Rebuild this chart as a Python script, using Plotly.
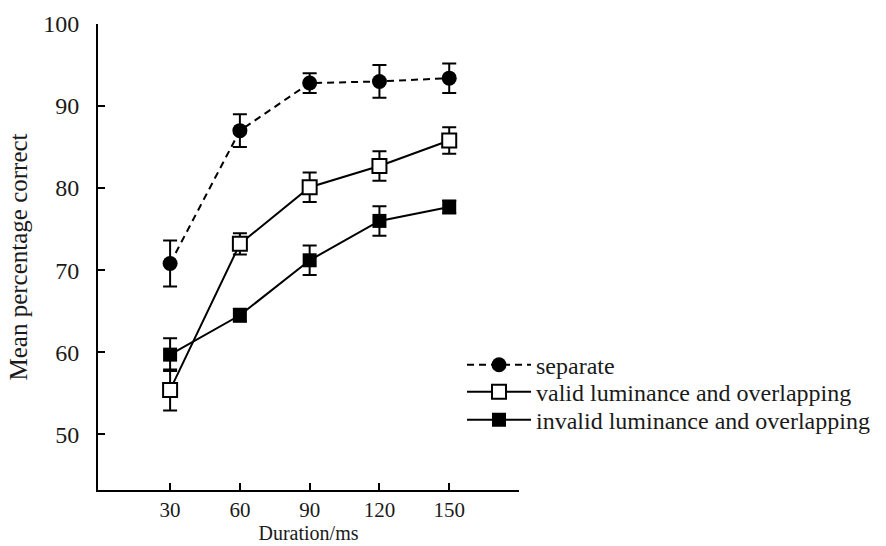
import plotly.graph_objects as go

durations = [30, 60, 90, 120, 150]

separate_mean = [70.8, 87.0, 92.8, 93.0, 93.4]
separate_err = [2.8, 2.0, 1.2, 2.0, 1.8]

valid_mean = [55.4, 73.2, 80.1, 82.7, 85.8]
valid_err = [2.5, 1.3, 1.8, 1.8, 1.6]

invalid_mean = [59.7, 64.5, 71.2, 76.0, 77.7]
invalid_err = [2.0, 0.8, 1.8, 1.8, 0.8]

x_ticks = [30, 60, 90, 120, 150]
y_ticks = [50, 60, 70, 80, 90, 100]

FONT = "Liberation Serif"
TXT = "#1a1a1a"

fig = go.Figure()

fig.add_trace(go.Scatter(
    x=durations, y=separate_mean, name="separate", mode="lines+markers",
    line=dict(color="black", width=2, dash="7px,5px"),
    marker=dict(symbol="circle", size=15, color="black"),
    error_y=dict(type="data", array=separate_err, visible=True, color="black", thickness=2, width=7),
    legend="legend",
))
fig.add_trace(go.Scatter(
    x=durations, y=valid_mean, name="valid luminance and overlapping", mode="lines+markers",
    line=dict(color="black", width=2),
    marker=dict(symbol="square", size=14, color="white", line=dict(color="black", width=2)),
    error_y=dict(type="data", array=valid_err, visible=True, color="black", thickness=2, width=7),
    legend="legend2",
))
fig.add_trace(go.Scatter(
    x=durations, y=invalid_mean, name="invalid luminance and overlapping", mode="lines+markers",
    line=dict(color="black", width=2),
    marker=dict(symbol="square", size=14, color="black"),
    error_y=dict(type="data", array=invalid_err, visible=True, color="black", thickness=2, width=7),
    legend="legend3",
))

leg_common = dict(xanchor="left", yanchor="middle", x=0.8626,
                  font=dict(family=FONT, size=24, color=TXT),
                  bgcolor="rgba(0,0,0,0)", borderwidth=0, itemwidth=64)

fig.update_layout(
    width=886, height=546,
    margin=dict(l=98, r=366, t=24, b=56),
    paper_bgcolor="white", plot_bgcolor="white",
    font=dict(family=FONT, size=24, color=TXT),
    showlegend=True,
    legend=dict(y=0.268, **leg_common),
    legend2=dict(y=0.210, **leg_common),
    legend3=dict(y=0.150, **leg_common),
)
fig.update_xaxes(
    range=[-1, 180], tickvals=x_ticks, ticktext=[str(v) for v in x_ticks],
    showline=True, linecolor="black", linewidth=2, mirror=False,
    ticks="inside", ticklen=7, tickwidth=2, tickcolor="black",
    showgrid=False, zeroline=False, automargin=False,
    title=dict(text="Duration/ms", font=dict(family=FONT, size=20, color=TXT), standoff=5),
    tickfont=dict(family=FONT, size=21, color=TXT),
)
fig.update_yaxes(
    range=[43.2, 100], tickvals=y_ticks, ticktext=[str(v) for v in y_ticks],
    showline=True, linecolor="black", linewidth=2, mirror=False,
    ticks="inside", ticklen=7, tickwidth=2, tickcolor="black",
    showgrid=False, zeroline=False, automargin=False,
    ticklabelstandoff=12,
    title=dict(text="Mean percentage correct", font=dict(family=FONT, size=25, color=TXT), standoff=8),
    tickfont=dict(family=FONT, size=24, color=TXT),
)

fig.write_html("out.html", config={"displayModeBar": False},
               post_script="document.body.style.margin='0';")
